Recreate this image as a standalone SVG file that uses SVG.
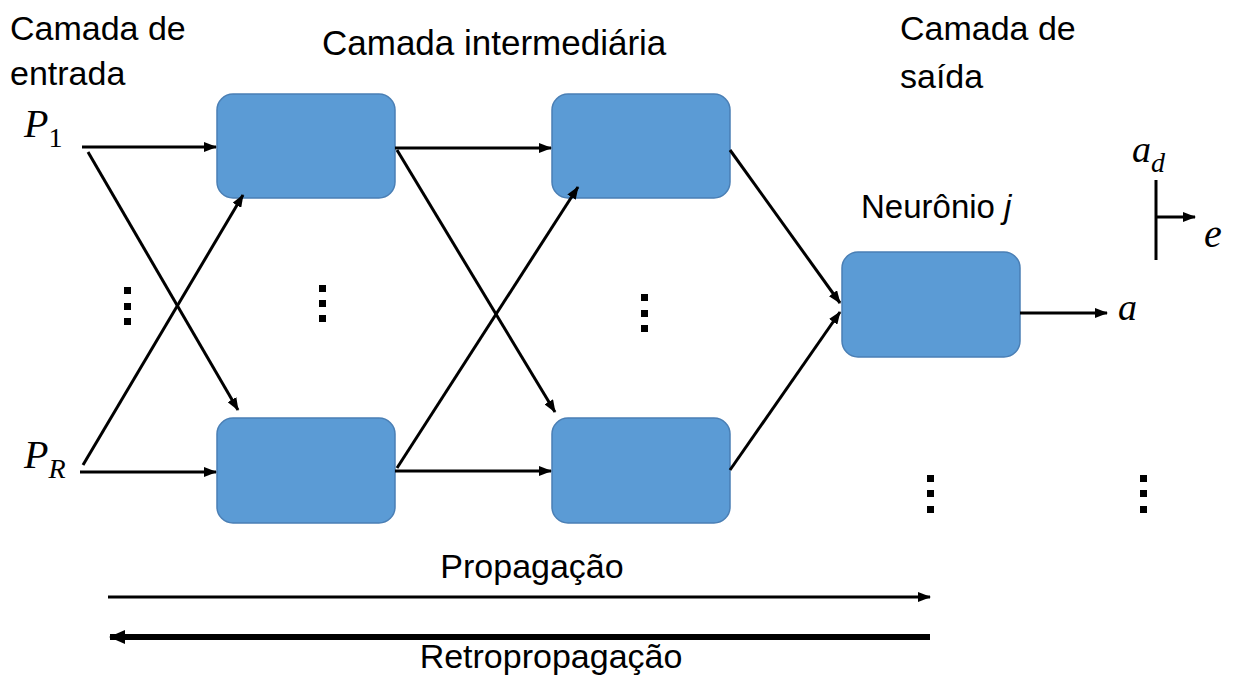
<svg xmlns="http://www.w3.org/2000/svg" width="1235" height="676" viewBox="0 0 1235 676">
<style>
.lbl{font-family:"Liberation Sans","Open Sans",sans-serif;font-size:34px;fill:#000}
.math{font-family:"Liberation Serif","DejaVu Serif",serif;font-style:italic;fill:#000}
.box{fill:#5B9BD5;stroke:#4A7FB5;stroke-width:1.5}
.c{stroke:#000;stroke-width:3;fill:none;marker-end:url(#ah)}
.dot{fill:#000}
</style>
<defs>
<marker id="ah" viewBox="0 0 13 10" refX="12" refY="5" markerWidth="13" markerHeight="10" markerUnits="userSpaceOnUse" orient="auto">
<path d="M0,0 L13,5 L0,10 Z" fill="#000"/>
</marker>
<marker id="ahb" viewBox="0 0 16 14" refX="15" refY="7" markerWidth="16" markerHeight="14" markerUnits="userSpaceOnUse" orient="auto">
<path d="M0,0 L16,7 L0,14 Z" fill="#000"/>
</marker>
</defs>
<rect width="1235" height="676" fill="#fff"/>
<g id="labels">
<text class="lbl" x="10" y="40">Camada de</text>
<text class="lbl" x="10" y="85">entrada</text>
<text class="lbl" x="322" y="55" style="font-size:35px">Camada intermediária</text>
<text class="lbl" x="900" y="40">Camada de</text>
<text class="lbl" x="900" y="88">saída</text>
</g>
<g id="P1"><text class="math" x="24" y="137" font-size="40">P<tspan font-style="normal" font-size="28" dy="10">1</tspan></text></g>
<g id="PR"><text class="math" x="24" y="468" font-size="40">P<tspan font-size="28" dy="10">R</tspan></text></g>
<g id="n11"><rect class="box" x="217" y="94" width="178" height="104" rx="16"/></g>
<g id="n12"><rect class="box" x="552" y="94" width="178" height="104" rx="16"/></g>
<g id="n21"><rect class="box" x="217" y="418" width="178" height="105" rx="16"/></g>
<g id="n22"><rect class="box" x="552" y="418" width="178" height="105" rx="16"/></g>
<g id="neuronj">
<rect class="box" x="842" y="252" width="178" height="105" rx="16"/>
<text class="lbl" x="861" y="218" style="font-size:33px">Neurônio <tspan style="font-style:italic">j</tspan></text>
</g>
<g id="out-a"><text class="math" x="1118" y="320" font-size="38">a</text></g>
<g id="target">
<text class="math" x="1132" y="162" font-size="38">a<tspan font-size="28" dy="10">d</tspan></text>
<line x1="1156" y1="180" x2="1156" y2="260" stroke="#000" stroke-width="3"/>
<text class="math" x="1204" y="247" font-size="40">e</text>
</g>
<g id="dots">
<rect class="dot" x="124" y="287" width="7" height="7"/>
<rect class="dot" x="124" y="303" width="7" height="7"/>
<rect class="dot" x="124" y="318" width="7" height="7"/>
<rect class="dot" x="319" y="285" width="7" height="7"/>
<rect class="dot" x="319" y="300" width="7" height="7"/>
<rect class="dot" x="319" y="315" width="7" height="7"/>
<rect class="dot" x="641" y="294" width="7" height="7"/>
<rect class="dot" x="641" y="310" width="7" height="7"/>
<rect class="dot" x="641" y="325" width="7" height="7"/>
<rect class="dot" x="927" y="475" width="7" height="7"/>
<rect class="dot" x="927" y="490" width="7" height="7"/>
<rect class="dot" x="927" y="506" width="7" height="7"/>
<rect class="dot" x="1140" y="475" width="7" height="7"/>
<rect class="dot" x="1140" y="490" width="7" height="7"/>
<rect class="dot" x="1140" y="506" width="7" height="7"/>
</g>
<g id="connectors">
<line class="c" x1="82" y1="147" x2="216" y2="147"/>
<line class="c" x1="88" y1="152" x2="238" y2="410"/>
<line class="c" x1="80" y1="472" x2="216" y2="472"/>
<line class="c" x1="83" y1="465" x2="243" y2="195"/>
<line class="c" x1="395" y1="148" x2="551" y2="148"/>
<line class="c" x1="397" y1="150" x2="555" y2="412"/>
<line class="c" x1="395" y1="471" x2="551" y2="471"/>
<line class="c" x1="397" y1="468" x2="578" y2="187"/>
<line class="c" x1="730" y1="150" x2="840" y2="303"/>
<line class="c" x1="730" y1="470" x2="840" y2="312"/>
<line class="c" x1="1020" y1="313" x2="1107" y2="313"/>
<line class="c" x1="1156" y1="217" x2="1195" y2="217"/>
<line x1="108" y1="597" x2="930" y2="597" stroke="#000" stroke-width="3" marker-end="url(#ah)"/>
<line x1="930" y1="637" x2="110" y2="637" stroke="#000" stroke-width="6" marker-end="url(#ahb)"/>
</g>
<g id="bottom-labels">
<text class="lbl" x="532" y="578" text-anchor="middle">Propagação</text>
<text class="lbl" x="551" y="668" text-anchor="middle">Retropropagação</text>
</g>
</svg>
